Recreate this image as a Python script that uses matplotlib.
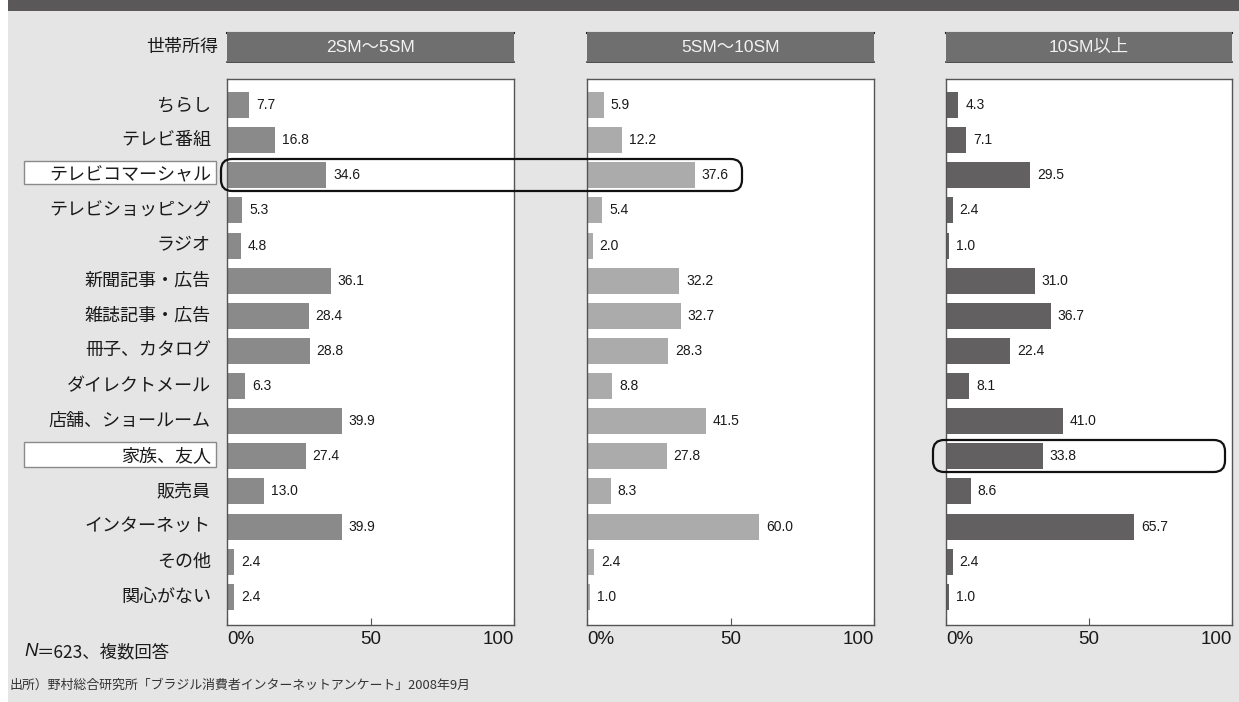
import matplotlib
matplotlib.use("Agg")
import matplotlib.pyplot as plt
from matplotlib.patches import Rectangle, FancyBboxPatch

plt.rcParams['font.family'] = ['Noto Sans CJK JP', 'DejaVu Sans']
latin = ['Liberation Sans', 'Noto Sans CJK JP']

categories = ['ちらし', 'テレビ番組', 'テレビコマーシャル', 'テレビショッピング', 'ラジオ',
              '新聞記事・広告', '雑誌記事・広告', '冊子、カタログ', 'ダイレクトメール',
              '店舗、ショールーム', '家族、友人', '販売員', 'インターネット', 'その他', '関心がない']
groups = ['2SM〜5SM', '5SM〜10SM', '10SM以上']
low_income = [7.7, 16.8, 34.6, 5.3, 4.8, 36.1, 28.4, 28.8, 6.3, 39.9, 27.4, 13.0, 39.9, 2.4, 2.4]
mid_income = [5.9, 12.2, 37.6, 5.4, 2.0, 32.2, 32.7, 28.3, 8.8, 41.5, 27.8, 8.3, 60.0, 2.4, 1.0]
high_income = [4.3, 7.1, 29.5, 2.4, 1.0, 31.0, 36.7, 22.4, 8.1, 41.0, 33.8, 8.6, 65.7, 2.4, 1.0]
tick_values = [0, 50, 100]
tick_labels = ['0%', '50', '100']

W, H = 1239, 702
fig = plt.figure(figsize=(W / 100, H / 100), dpi=100)
fig.patch.set_facecolor('white')


def frac(x0, y0, x1, y1):
    # pixel box (top-left origin) -> figure fraction rect
    return [x0 / W, 1 - y1 / H, (x1 - x0) / W, (y1 - y0) / H]


def fig_rect(x0, y0, x1, y1, **kw):
    r = frac(x0, y0, x1, y1)
    fig.patches.append(Rectangle((r[0], r[1]), r[2], r[3], transform=fig.transFigure, **kw))


def fig_round(x0, y0, x1, y1, **kw):
    r = frac(x0, y0, x1, y1)
    fig.patches.append(FancyBboxPatch((r[0], r[1]), r[2], r[3], transform=fig.transFigure,
                                      boxstyle='round,pad=0,rounding_size=0.009',
                                      mutation_aspect=W / H, **kw))


# background panel and title band
fig_rect(8, 0, W, H, facecolor='#e5e5e5', edgecolor='none', zorder=0)
fig_rect(8, 0, W, 11, facecolor='#5a5858', edgecolor='none', zorder=1)

# label boxes for highlighted categories
fig_rect(24, 161, 216, 184, facecolor='white', edgecolor='#8a8a8a', lw=1, zorder=1)
fig_rect(24, 442, 216, 467, facecolor='white', edgecolor='#8a8a8a', lw=1, zorder=1)

panels = [(227, 514, low_income, '#8a8a8a'),
          (587, 874, mid_income, '#ababab'),
          (946, 1232, high_income, '#636061')]
ax_top, ax_bot = 79, 625
n = len(categories)
ypos = list(range(n))

for i, (x0, x1, vals, color) in enumerate(panels):
    # header bar
    fig_rect(x0, 32, x1, 62, facecolor='#6f6f6f', edgecolor='none', zorder=2)
    fig.add_artist(plt.Line2D([x0 / W, x1 / W], [1 - 32.5 / H] * 2, color='#222222', lw=1.5))
    fig.add_artist(plt.Line2D([x0 / W, x1 / W], [1 - 61.5 / H] * 2, color='#333333', lw=1.2))
    fig.text((x0 + x1) / 2 / W, 1 - 47 / H, groups[i], ha='center', va='center',
             color='#f2f2f2', fontsize=12.5, family=latin)

    ax = fig.add_axes(frac(x0, ax_top, x1, ax_bot), zorder=3)
    ax.set_facecolor('white')
    ax.barh(ypos, vals, height=0.74, color=color)
    for y, v in zip(ypos, vals):
        ax.text(v + 2.4, y, f'{v:.1f}', va='center', ha='left', fontsize=10,
                color='#1a1a1a', family=latin)
    ax.set_xlim(0, 100)
    ax.set_ylim(n - 1 + 0.8, -0.74)
    ax.set_yticks([])
    ax.set_xticks(tick_values)
    ax.set_xticklabels(tick_labels, fontsize=13.5, color='#1a1a1a', family=latin)
    lbls = ax.get_xticklabels()
    lbls[0].set_ha('left')
    lbls[-1].set_ha('right')
    ax.tick_params(axis='x', direction='in', length=5, width=0.8, color='#555555', pad=4)
    for s in ax.spines.values():
        s.set_color('#555555')
        s.set_linewidth(1.0)
    if i == 0:
        for y, c in zip(ypos, categories):
            ax.text(-0.056, y, c, transform=ax.get_yaxis_transform(), ha='right', va='center',
                    fontsize=13, color='#1a1a1a')

fig.text(218 / W, 1 - 47 / H, '世帯所得', ha='right', va='center', fontsize=13, color='#1a1a1a')

# highlight frames
fig_round(221, 159, 742, 191, facecolor='none', edgecolor='#111111', lw=1.6, zorder=10)
fig_round(933, 440, 1225, 472, facecolor='none', edgecolor='#111111', lw=1.6, zorder=10)

fig.text(24 / W, 1 - 652 / H, 'N', ha='left', va='center', fontsize=13.5, color='#1a1a1a',
         family=latin, fontstyle='italic')
fig.text(37 / W, 1 - 652 / H, '＝623、複数回答', ha='left', va='center', fontsize=12.5,
         color='#1a1a1a')
fig.text(10 / W, 1 - 685 / H, '出所）野村総合研究所「ブラジル消費者インターネットアンケート」2008年9月',
         ha='left', va='center', fontsize=9.3, color='#333333')

fig.savefig('out.png', dpi=100)
